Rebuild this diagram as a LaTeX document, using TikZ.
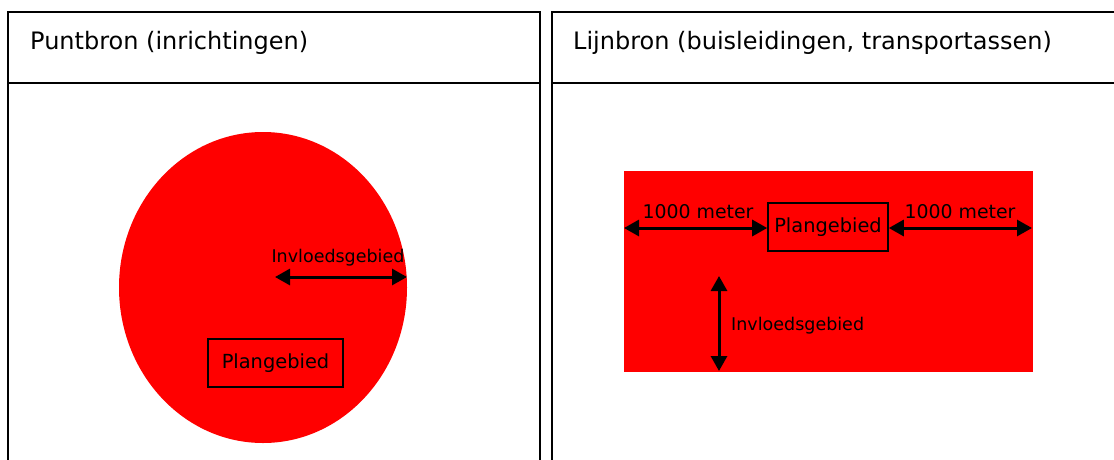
\documentclass[tikz,border=0pt]{standalone}
\usepackage{fontspec}
\setmainfont{DejaVu Sans}
\usetikzlibrary{arrows.meta}
\definecolor{fillred}{HTML}{FF0000}
\tikzset{
  panel/.style={draw=black, line width=2pt},
  planbox/.style={draw=black, line width=1.6pt, minimum width=#1, inner sep=0pt, font=\fontsize{19.4}{22}\selectfont},
  dim/.style={line width=3pt, {Triangle[length=15pt,width=16pt]}-{Triangle[length=15pt,width=16pt]}},
  headtxt/.style={anchor=base west, inner sep=0pt, font=\fontsize{24}{28}\selectfont},
  smalltxt/.style={inner sep=0pt, font=\fontsize{17.5}{20}\selectfont},
  midtxt/.style={inner sep=0pt, font=\fontsize{18.9}{22}\selectfont}
}
\begin{document}
\begin{tikzpicture}[x=1pt,y=-1pt]
\useasboundingbox (0,0) rectangle (1114,459);
\clip (0,0) rectangle (1114,459);
\fill[white] (0,0) rectangle (1114,459);
% panels
\draw[panel] (8,470) -- (8,12) -- (540,12) -- (540,470);
\draw[panel] (8,83) -- (540,83);
\draw[panel] (552,470) -- (552,12) -- (1130,12);
\draw[panel] (552,83) -- (1130,83);
\node[headtxt] (h1) at (30,49) {Puntbron (inrichtingen)};
\node[headtxt] (h2) at (573,49) {Lijnbron (buisleidingen, transportassen)};
% left: point source
\fill[fillred] (263,287.5) ellipse [x radius=144, y radius=155.5];
\node[planbox=135pt, minimum height=48pt] (p1) at (275.5,363) {Plangebied};
\coordinate (a1) at (275,277);
\coordinate (a2) at (407,277);
\draw[dim] (a1) -- (a2);
\node[smalltxt, anchor=base] (l1) at (338,262) {Invloedsgebied};
% right: line source
\fill[fillred] (624,171) rectangle (1033,372);
\node[planbox=120pt, minimum height=48pt] (p2) at (828,227) {Plangebied};
\coordinate (b1) at (624,228);
\coordinate (b2) at (1032,228);
\draw[dim] (b1) -- (p2.west |- b1);
\draw[dim] (p2.east |- b2) -- (b2);
\node[midtxt, anchor=base] (m1) at (698,218) {1000 meter};
\node[midtxt, anchor=base] (m2) at (960,218) {1000 meter};
\coordinate (v1) at (719,276);
\coordinate (v2) at (719,371);
\draw[dim] (v1) -- (v2);
\node[smalltxt, anchor=base west] (l2) at (731,330) {Invloedsgebied};
\end{tikzpicture}
\end{document}
